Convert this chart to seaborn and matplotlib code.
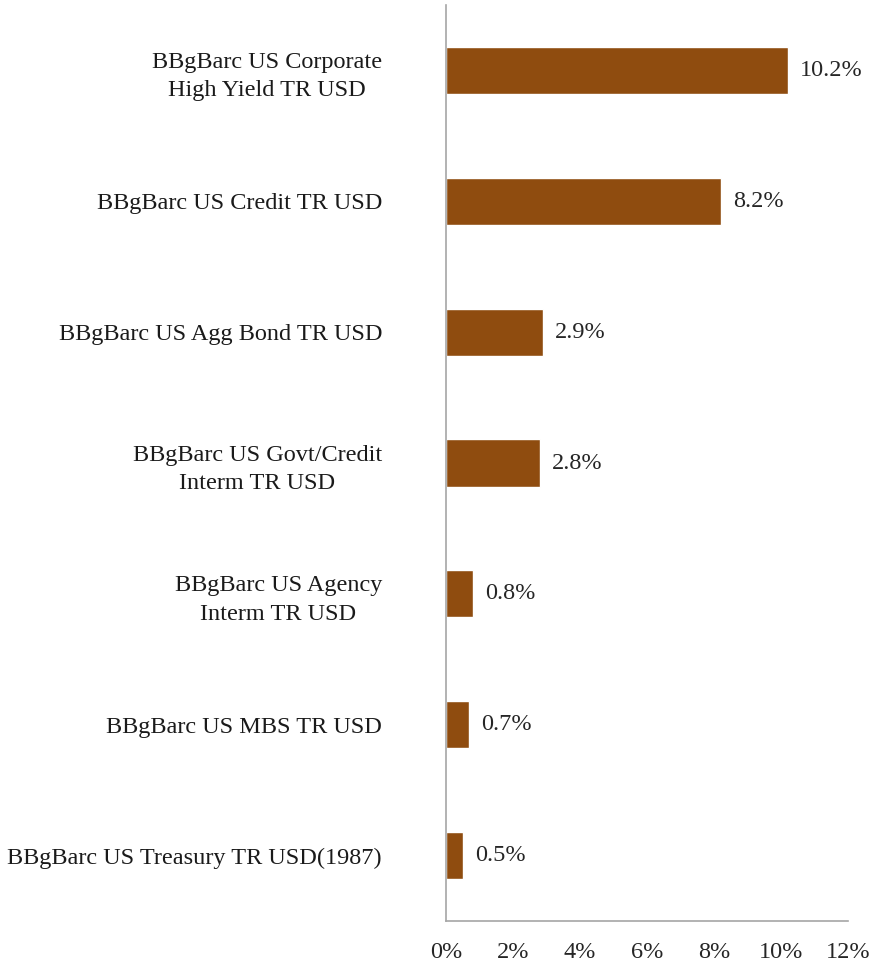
import matplotlib
matplotlib.use("Agg")
import matplotlib.pyplot as plt
import seaborn as sns
import pandas as pd

categories = [
    "BBgBarc US Corporate\nHigh Yield TR USD",
    "BBgBarc US Credit TR USD",
    "BBgBarc US Agg Bond TR USD",
    "BBgBarc US Govt/Credit\nInterm TR USD",
    "BBgBarc US Agency\nInterm TR USD",
    "BBgBarc US MBS TR USD",
    "BBgBarc US Treasury TR USD(1987)",
]
values = [10.2, 8.2, 2.9, 2.8, 0.8, 0.7, 0.5]
xticks = [0, 2, 4, 6, 8, 10, 12]
xtick_labels = ["0%", "2%", "4%", "6%", "8%", "10%", "12%"]

sns.set_theme(style="white")
plt.rcParams["font.family"] = ["Liberation Serif", "DejaVu Serif"]

df = pd.DataFrame({"cat": categories, "val": values})

fig = plt.figure(figsize=(8.73, 9.64), dpi=100)
ax = fig.add_axes([446/873, 1 - 921/964, (848 - 446)/873, (921 - 5)/964])

sns.barplot(data=df, x="val", y="cat", orient="h", color="#8F4C0F",
            saturation=1, width=0.36, ax=ax)

fs = 17.5
ax.set_xlim(0, 12)
ax.set_ylim(len(categories) - 0.5, -0.5)
ax.set_xticks(xticks)
ax.set_xticklabels(xtick_labels, fontsize=fs, color="#262626")
ax.set_xlabel("")
ax.set_ylabel("")
ax.tick_params(axis="x", length=0, pad=15)
ax.tick_params(axis="y", length=0, pad=46)
for lab in ax.get_yticklabels():
    lab.set_fontsize(fs)
    lab.set_color("#1a1a1a")
    lab.set_multialignment("center")
    lab.set_linespacing(1.45)

for i, v in enumerate(values):
    ax.text(v + 0.36, i, f"{v:.1f}%", va="center", ha="left", fontsize=fs, color="#262626")

for s in ["top", "right"]:
    ax.spines[s].set_visible(False)
for s in ["left", "bottom"]:
    ax.spines[s].set_color("#A6A6A6")
    ax.spines[s].set_linewidth(1.2)

fig.savefig("out.png", dpi=100)
